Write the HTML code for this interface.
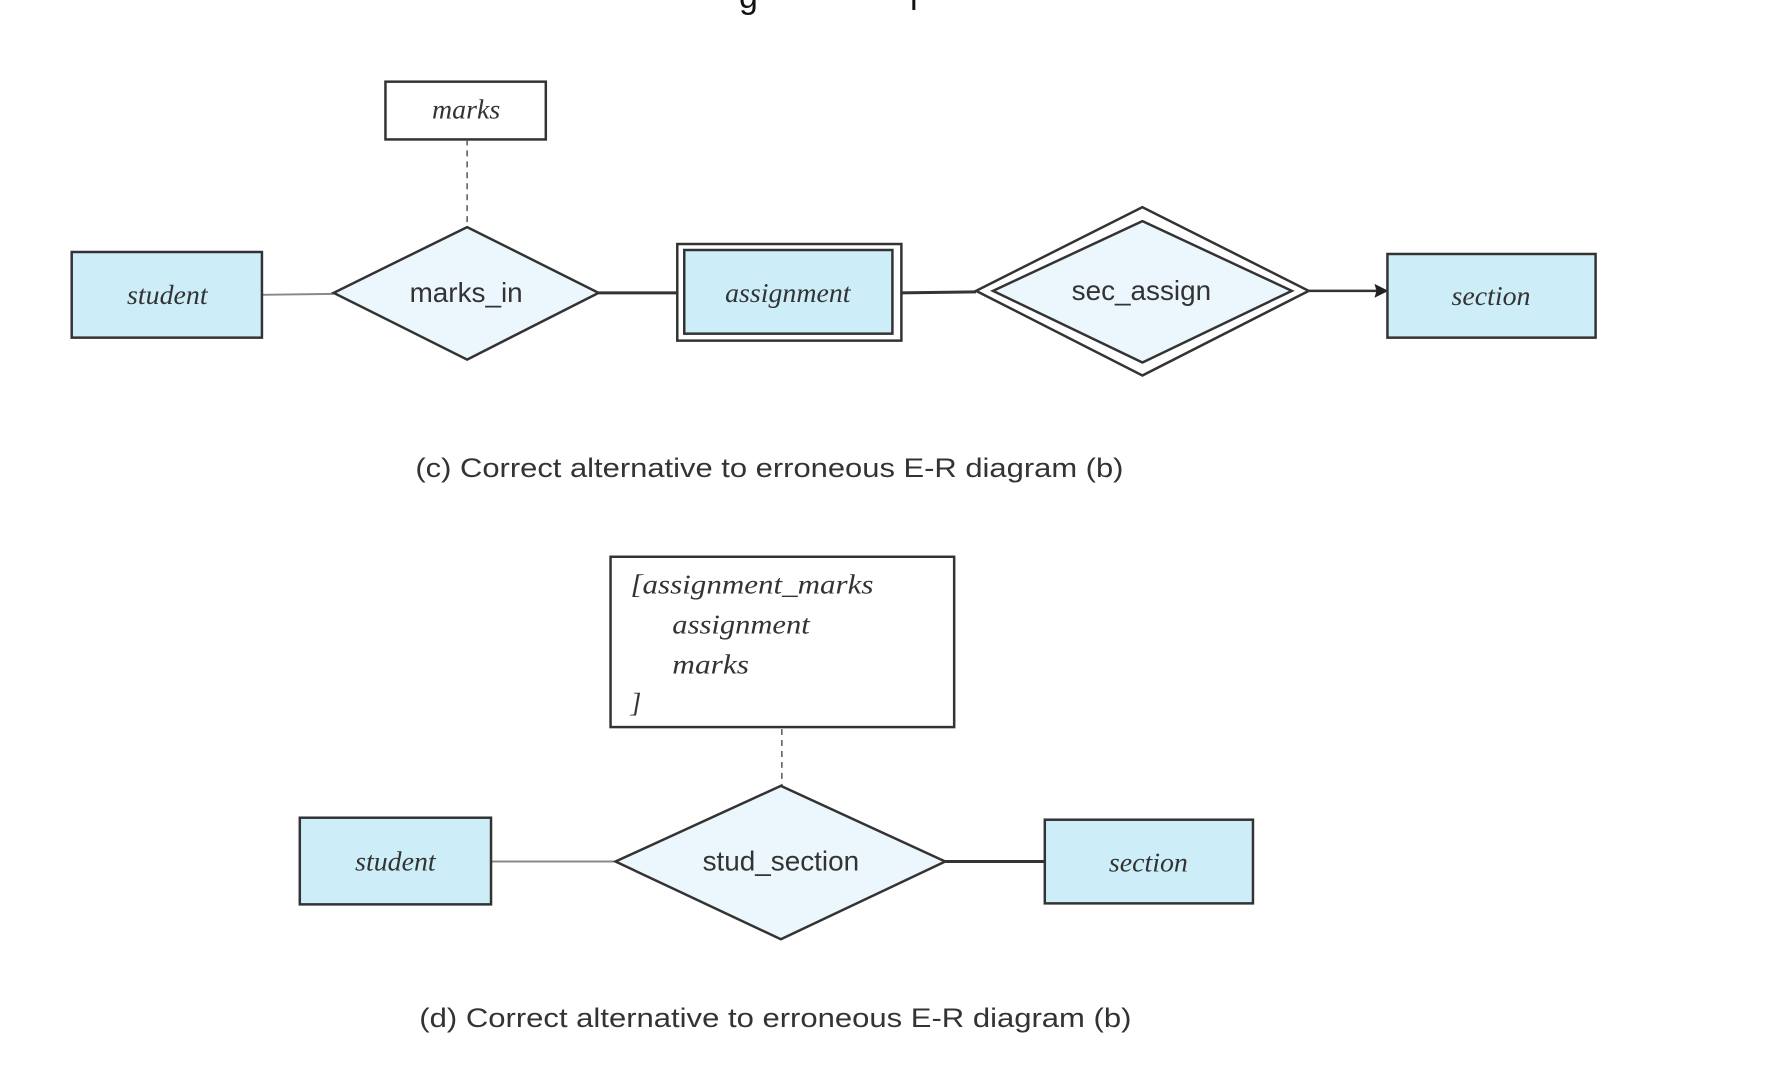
<!DOCTYPE html>
<html><head><meta charset="utf-8"><style>
html,body{margin:0;padding:0;background:#fff;}
svg{display:block;}
.ent{fill:#cdeef8;stroke:#333;stroke-width:2.5;}
.rel{fill:#ebf7fc;stroke:#333;stroke-width:2.5;}
.it{font-family:"Liberation Serif",serif;font-style:italic;font-size:28px;fill:#333;}
.sn{font-family:"Liberation Sans",sans-serif;font-size:28px;fill:#333;}
.cap{font-family:"Liberation Sans",sans-serif;font-size:27px;fill:#333;}
</style></head><body>
<svg width="1768" height="1074" viewBox="0 0 1768 1074" xmlns="http://www.w3.org/2000/svg">
<g transform="scale(0.996)">
<text x="742" y="8" font-family="Liberation Sans,sans-serif" font-size="34" fill="#111">g</text>
<rect x="916" y="0" width="3" height="10" fill="#111"/>

<!-- (c) -->
<rect x="387" y="82" width="161" height="58" fill="#fff" stroke="#333" stroke-width="2.5"/>
<text class="it" x="468" y="119" text-anchor="middle">marks</text>
<line x1="469" y1="140" x2="469" y2="228" stroke="#555" stroke-width="1.5" stroke-dasharray="6,5"/>
<line x1="263" y1="296" x2="335" y2="295" stroke="#888" stroke-width="2"/>
<rect class="ent" x="72" y="253" width="191" height="86"/>
<text class="it" x="168" y="305" text-anchor="middle">student</text>
<polygon class="rel" points="335,294 469,228 601,294 469,361"/>
<text class="sn" x="468" y="303" text-anchor="middle">marks_in</text>
<line x1="601" y1="294" x2="680" y2="294" stroke="#333" stroke-width="3"/>
<rect x="680" y="245" width="225" height="97" fill="#fff" stroke="#333" stroke-width="2.5"/>
<rect class="ent" x="687" y="251" width="209" height="84"/>
<text class="it" x="791" y="303" text-anchor="middle">assignment</text>
<line x1="905" y1="294" x2="980" y2="293" stroke="#333" stroke-width="3"/>
<polygon points="980,292 1147,208 1314,292 1147,377" fill="#fff" stroke="#333" stroke-width="2.5"/>
<polygon class="rel" points="997,292 1147,222 1297,292 1147,364"/>
<text class="sn" x="1146" y="301" text-anchor="middle">sec_assign</text>
<line x1="1314" y1="292" x2="1382" y2="292" stroke="#333" stroke-width="2.5"/>
<polygon points="1394,292 1380,285 1382,292 1380,299" fill="#222"/>
<rect class="ent" x="1393" y="255" width="209" height="84"/>
<text class="it" x="1497" y="306" text-anchor="middle">section</text>
<text class="cap" x="417" y="479" textLength="711" lengthAdjust="spacingAndGlyphs">(c) Correct alternative to erroneous E-R diagram (b)</text>

<!-- (d) -->
<rect x="613" y="559" width="345" height="171" fill="#fff" stroke="#333" stroke-width="2.5"/>
<text class="it" x="633" y="596" textLength="244" lengthAdjust="spacingAndGlyphs">[assignment_marks</text>
<text class="it" x="675" y="636" textLength="138" lengthAdjust="spacingAndGlyphs">assignment</text>
<text class="it" x="675" y="676" textLength="77" lengthAdjust="spacingAndGlyphs">marks</text>
<text class="it" x="633" y="715">]</text>
<line x1="785" y1="732" x2="785" y2="789" stroke="#555" stroke-width="1.5" stroke-dasharray="6,5"/>
<line x1="493" y1="865" x2="618" y2="865" stroke="#888" stroke-width="2"/>
<rect class="ent" x="301" y="821" width="192" height="87"/>
<text class="it" x="397" y="874" text-anchor="middle">student</text>
<polygon class="rel" points="618,865 784,789 949,865 784,943"/>
<text class="sn" x="784" y="874" text-anchor="middle">stud_section</text>
<line x1="949" y1="865" x2="1049" y2="865" stroke="#333" stroke-width="3"/>
<rect class="ent" x="1049" y="823" width="209" height="84"/>
<text class="it" x="1153" y="875" text-anchor="middle">section</text>
<text class="cap" x="421" y="1031" textLength="715" lengthAdjust="spacingAndGlyphs">(d) Correct alternative to erroneous E-R diagram (b)</text>
</g>
</svg>
</body></html>
